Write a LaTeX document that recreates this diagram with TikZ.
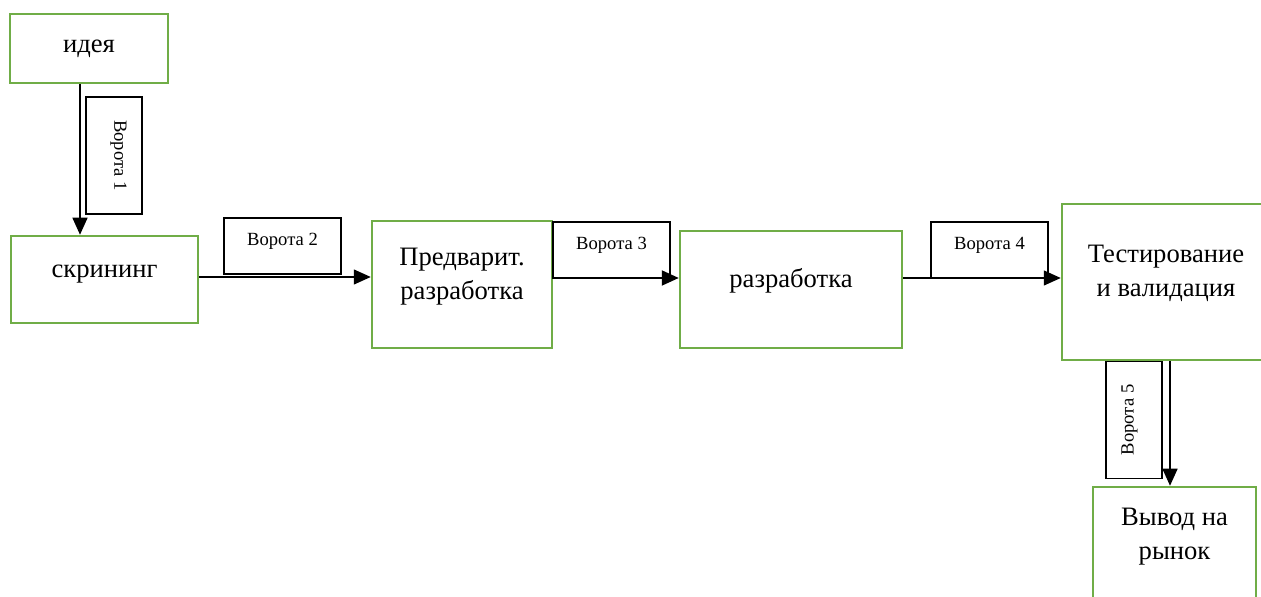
\documentclass[tikz,border=0pt]{standalone}
\usepackage{fontspec}
\setmainfont{Liberation Serif}
\usetikzlibrary{arrows.meta}
\definecolor{boxgreen}{RGB}{112,173,71}
\newcommand{\lifted}[1]{\raisebox{4.5pt}[\height][\depth]{\begin{tabular}{@{}c@{}}#1\end{tabular}}}

\begin{document}
\begin{tikzpicture}[x=0.5pt,y=-0.5pt,
   stage/.style={draw=boxgreen,line width=1.25pt,inner sep=0pt,font=\fontsize{13.3}{17}\selectfont},
   gate/.style={draw,line width=0.6pt,inner sep=0pt,minimum width=58.5pt,minimum height=28pt,
                text height=6.5pt,text depth=6.9pt,font=\fontsize{9.3}{11}\selectfont},
   arr/.style={line width=0.7pt,-{Triangle[length=8.5pt,width=7.5pt]}}]
   \useasboundingbox (0,0) rectangle (1261,597);
   % stages
   \node[stage,minimum width=79pt,minimum height=34.5pt] (idea) at (89,48.5) {идея};
   \node[stage,minimum width=93.5pt,minimum height=43.5pt] (screen) at (104.5,279.5) {\lifted{скрининг}};
   \node[stage,minimum width=90pt,minimum height=63.5pt] (pre) at (462,284.5) {\lifted{Предварит.\\разработка}};
   \node[stage,minimum width=111pt,minimum height=58.5pt] (dev) at (791,289.5) {\lifted{разработка}};
   \node[stage,minimum width=104pt,minimum height=78pt] (test) at (1166,282) {\lifted{Тестирование\\и валидация}};
   \node[stage,minimum width=81.5pt,minimum height=58pt] (market) at (1174.5,545) {\lifted{Вывод на\\рынок}};
   % gates
   \node[gate,rotate=-90] (g1) at (114,155.5) {Ворота 1};
   \node[gate] (g2) at (282.5,246) {Ворота 2};
   \node[gate] (g3) at (611.5,250) {Ворота 3};
   \node[gate] (g4) at (989.5,250) {Ворота 4};
   \node[gate,rotate=90] (g5) at (1134,420) {Ворота 5};
   % arrows
   \draw[arr] ([xshift=-4.5pt]idea.south) -- ([xshift=-12.25pt]screen.north);
   \draw[arr] ([yshift=1.25pt]screen.east) -- ([yshift=3.75pt]pre.west);
   \draw[arr,line width=1pt] ([yshift=3.25pt]pre.east) -- ([yshift=5.75pt]dev.west);
   \draw[arr] ([yshift=5.75pt]dev.east) -- ([yshift=2pt]test.west);
   \draw[arr] ([xshift=2pt]test.south) -- ([xshift=-2.25pt]market.north);
\end{tikzpicture}
\end{document}
